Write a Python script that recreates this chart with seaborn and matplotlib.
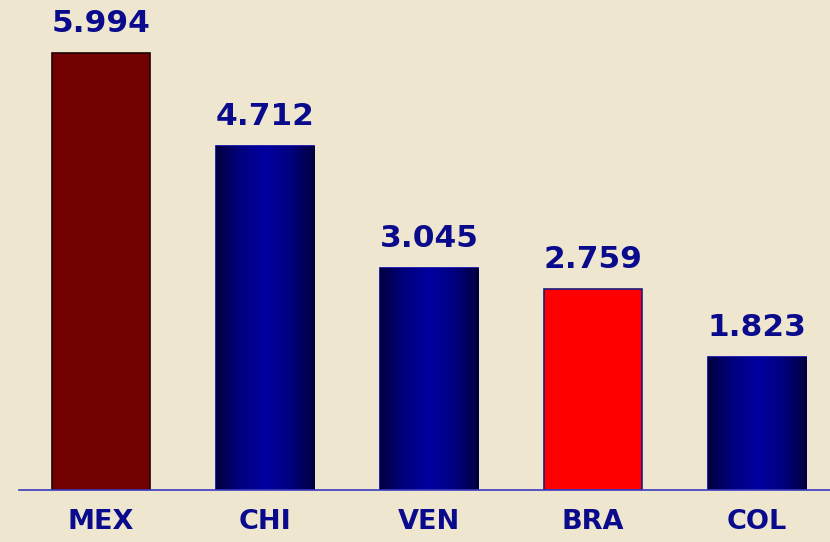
import numpy as np
import pandas as pd
import matplotlib
matplotlib.use("Agg")
import matplotlib.pyplot as plt
from matplotlib.colors import LinearSegmentedColormap
import seaborn as sns

# ======================================================
# DATA
# ======================================================
countries = ["MEX", "CHI", "VEN", "BRA", "COL"]
values = [5.994, 4.712, 3.045, 2.759, 1.823]
value_labels = ["5.994", "4.712", "3.045", "2.759", "1.823"]
bar_colors = ["#720000", "#00008C", "#00008C", "#FF0000", "#00008C"]

BG = "#EFE6D0"
TEXT = "#0A0A8C"

df = pd.DataFrame({"country": countries, "value": values})

sns.set_theme(style="white")
plt.rcParams["font.family"] = ["DejaVu Sans"]

fig = plt.figure(figsize=(8.3, 5.42), dpi=100)
fig.patch.set_facecolor(BG)
ax = fig.add_axes([19 / 830, 52 / 542, 811 / 830, 490 / 542])
ax.set_facecolor(BG)

sns.barplot(data=df, x="country", y="value", hue="country",
            palette=bar_colors, legend=False, width=0.6,
            saturation=1, ax=ax)

# cylinder-like shading for the blue bars
shade = LinearSegmentedColormap.from_list(
    "cyl", ["#00003E", "#000080", "#0000A0", "#000080", "#00003E"])
grad = np.linspace(0, 1, 256).reshape(1, -1)
for patch, c in zip(ax.patches, bar_colors):
    x0, w, h = patch.get_x(), patch.get_width(), patch.get_height()
    if c == "#00008C":
        patch.set_edgecolor("#0000B0")
        patch.set_linewidth(1.2)
        im = ax.imshow(grad, cmap=shade, aspect="auto",
                       extent=[x0, x0 + w, 0, h], zorder=patch.get_zorder() + 0.1)
        im.set_clip_path(patch)
    elif c == "#FF0000":
        patch.set_edgecolor("#1A1A80")
        patch.set_linewidth(1.2)
    else:
        patch.set_edgecolor("#200000")
        patch.set_linewidth(1.2)

# value labels above bars
for i, (v, lab) in enumerate(zip(values, value_labels)):
    ax.annotate(lab, (i, v), xytext=(0, 11), textcoords="offset points",
                ha="center", va="bottom", fontsize=22.5, fontweight="bold",
                color=TEXT)

ax.set_xlim(-0.5, 4.445)
ax.set_ylim(0, 6.72)
ax.set_xlabel("")
ax.set_ylabel("")
ax.set_yticks([])
ax.tick_params(axis="x", length=0, pad=14)
for t in ax.get_xticklabels():
    t.set_fontsize(19.5)
    t.set_fontweight("bold")
    t.set_color(TEXT)

for s in ["top", "right", "left"]:
    ax.spines[s].set_visible(False)
ax.spines["bottom"].set_color("#3A3AC0")
ax.spines["bottom"].set_linewidth(1.2)

fig.savefig("out.png", dpi=100, facecolor=BG)
